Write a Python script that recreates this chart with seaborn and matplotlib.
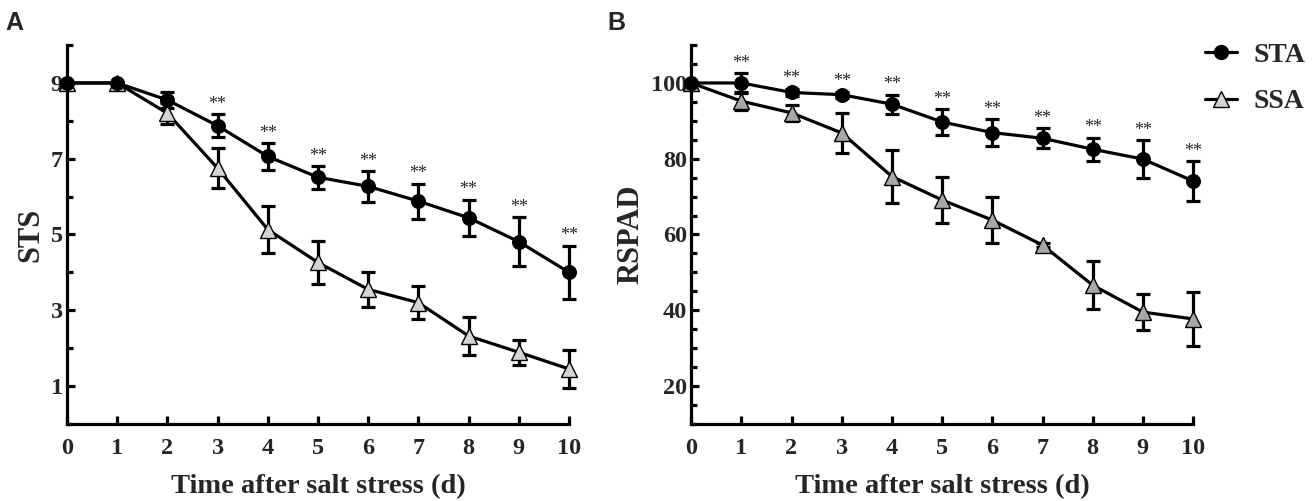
import matplotlib
matplotlib.use("Agg")
import matplotlib.pyplot as plt
from matplotlib.lines import Line2D
from matplotlib.ticker import MultipleLocator
import pandas as pd
import seaborn as sns

# 数据: 盐胁迫后天数
days = [0, 1, 2, 3, 4, 5, 6, 7, 8, 9, 10]

# A: STS
sts_sta = [9.0, 9.0, 8.55, 7.87, 7.06, 6.51, 6.27, 5.88, 5.44, 4.81, 4.0]
sts_sta_err = [0, 0, 0.22, 0.3, 0.35, 0.3, 0.4, 0.46, 0.48, 0.65, 0.7]
sts_ssa = [9.0, 9.0, 8.2, 6.75, 5.13, 4.26, 3.55, 3.2, 2.32, 1.89, 1.45]
sts_ssa_err = [0, 0, 0.28, 0.53, 0.62, 0.56, 0.47, 0.44, 0.5, 0.33, 0.5]

# B: RSPAD
rspad_sta = [100, 100, 97.5, 96.9, 94.4, 89.7, 86.9, 85.4, 82.5, 79.9, 74.1]
rspad_sta_err = [0, 2.6, 1.0, 0.8, 2.5, 3.4, 3.6, 2.6, 3.1, 5.0, 5.2]
rspad_ssa = [100, 95.2, 92.1, 86.8, 75.3, 69.1, 63.8, 57.2, 46.6, 39.5, 37.7]
rspad_ssa_err = [0, 2.3, 2.2, 5.3, 7.0, 6.0, 6.0, 0.5, 6.4, 4.7, 7.1]

star_days_a = [3, 4, 5, 6, 7, 8, 9, 10]
star_days_b = [1, 2, 3, 4, 5, 6, 7, 8, 9, 10]

sns.set_style("ticks")
plt.rcParams['font.family'] = ['Liberation Serif', 'DejaVu Serif']
plt.rcParams['font.weight'] = 'bold'

LW = 2.3


def draw_panel(ax, sta, sta_err, ssa, ssa_err, ssa_face, star_days, ylabel,
               ylim, minor, yticks):
    df = pd.DataFrame({'day': days, 'STA': sta, 'SSA': ssa})

    # 误差线
    ax.errorbar(days, sta, yerr=sta_err, fmt='none', ecolor='black',
                elinewidth=LW, capsize=5, capthick=LW, zorder=3, clip_on=False)
    ax.errorbar(days, ssa, yerr=ssa_err, fmt='none', ecolor='black',
                elinewidth=LW, capsize=5, capthick=LW, zorder=3, clip_on=False)

    # 折线 + 标记
    sns.lineplot(data=df, x='day', y='SSA', ax=ax, color='black', lw=LW,
                 marker='^', markersize=11, markerfacecolor=ssa_face,
                 markeredgecolor='black', markeredgewidth=1.0,
                 zorder=4, clip_on=False)
    sns.lineplot(data=df, x='day', y='STA', ax=ax, color='black', lw=LW,
                 marker='o', markersize=10, markerfacecolor='black',
                 markeredgecolor='black', zorder=5, clip_on=False)

    # 显著性标记
    for d in star_days:
        ax.annotate('**', (d, sta[d] + sta_err[d]), xytext=(0, 1),
                    textcoords='offset points', ha='center', va='bottom',
                    fontsize=13, fontweight='normal')

    ax.set_xlim(0, 10)
    ax.set_ylim(*ylim)
    ax.set_xticks(days)
    ax.set_yticks(yticks)
    ax.yaxis.set_minor_locator(MultipleLocator(minor))
    ax.set_xlabel('Time after salt stress (d)', fontsize=20.5,
                  fontweight='bold', labelpad=11)
    ax.set_ylabel(ylabel, fontsize=22, fontweight='bold', labelpad=4)

    sns.despine(ax=ax)
    for s in ['left', 'bottom']:
        ax.spines[s].set_linewidth(LW)
        ax.spines[s].set_color('black')
    ax.tick_params(which='major', direction='in', length=6, width=LW,
                   labelsize=17.5, color='black')
    ax.tick_params(axis='x', which='major', pad=10)
    ax.tick_params(axis='y', which='major', pad=3)
    ax.tick_params(which='minor', direction='in', length=4, width=LW,
                   color='black')
    for lab in ax.get_xticklabels() + ax.get_yticklabels():
        lab.set_fontweight('bold')


fig = plt.figure(figsize=(13.14, 5.01), dpi=100)
ax_a = fig.add_axes([0.051, 0.154, 0.382, 0.756])
ax_b = fig.add_axes([0.526, 0.154, 0.382, 0.756])

draw_panel(ax_a, sts_sta, sts_sta_err, sts_ssa, sts_ssa_err, '#d4d4d4',
           star_days_a, 'STS', (0, 10), 1, [1, 3, 5, 7, 9])
draw_panel(ax_b, rspad_sta, rspad_sta_err, rspad_ssa, rspad_ssa_err, '#a8a8a8',
           star_days_b, 'RSPAD', (10, 110), 5, [20, 40, 60, 80, 100])

# 面板标签
fig.text(0.004, 0.955, 'A', fontsize=18, fontweight='bold',
         family=['Liberation Sans', 'DejaVu Sans'], va='center')
fig.text(0.462, 0.955, 'B', fontsize=18, fontweight='bold',
         family=['Liberation Sans', 'DejaVu Sans'], va='center')

# 图例
handles = [
    Line2D([], [], color='black', lw=LW, marker='o', markersize=10,
           markerfacecolor='black'),
    Line2D([], [], color='black', lw=LW, marker='^', markersize=11,
           markerfacecolor='#d4d4d4', markeredgecolor='black',
           markeredgewidth=1.0),
]
fig.legend(handles, ['STA', 'SSA'], loc='upper left',
           bbox_to_anchor=(0.917, 0.915), frameon=False, borderpad=0,
           borderaxespad=0, handlelength=1.15, handletextpad=0.6,
           labelspacing=0.75,
           prop={'family': 'Liberation Serif', 'weight': 'bold', 'size': 20})

fig.savefig('out.png', dpi=100)
